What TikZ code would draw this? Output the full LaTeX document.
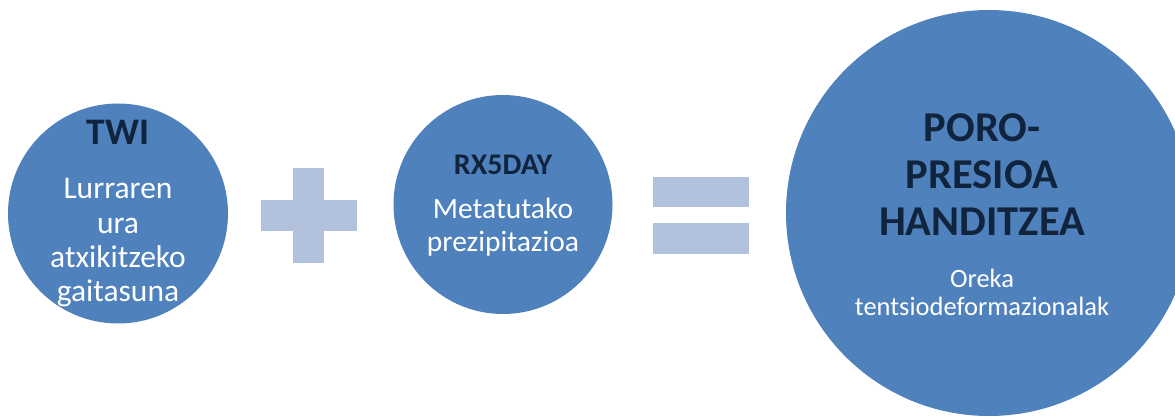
\documentclass[tikz,border=0pt]{standalone}
\usepackage{fontspec}
\setmainfont{Carlito}
\definecolor{bubblefill}{HTML}{4F81BD}
\definecolor{signfill}{HTML}{B1C1DC}
\definecolor{headtext}{HTML}{10243E}
\tikzset{
  bubble/.style={circle, fill=bubblefill, draw=none, inner sep=0pt},
  signbar/.style={rectangle, fill=signfill, draw=none, inner sep=0pt},
  head/.style={text=headtext, anchor=base, inner sep=0pt, font=\bfseries},
  body/.style={text=white, anchor=base, inner sep=0pt},
}
\newcommand{\fsz}[1]{\fontsize{#1}{#1}\selectfont}
\begin{document}
\begin{tikzpicture}[x=1pt, y=-1pt]
\useasboundingbox (0,0) rectangle (1175,419);
\begin{scope}
  \clip (0,0) rectangle (1175,419);
  % the three circles
  \node[bubble, minimum size=220pt] (twi) at (118,213.5) {};
  \node[bubble, minimum size=219pt] (rx) at (503,204.5) {};
  \node[bubble, minimum size=406pt] (poro) at (989,213) {};
\end{scope}

% plus sign
\node[signbar, minimum width=96pt, minimum height=31pt] (plush) at (309,215.5) {};
\node[signbar, minimum width=31pt, minimum height=95pt] (plusv) at (308.5,215.5) {};

% equals sign
\node[signbar, minimum width=96pt, minimum height=30pt] (eqtop) at (701,192) {};
\node[signbar, minimum width=96pt, minimum height=31pt] (eqbot) at (701,238.5) {};

% left circle text
\node[head, font=\bfseries\fsz{37.5}] (twititle) at (118,145) {TWI};
\node[body, font=\fsz{31.5}] (twi1) at (118,199) {Lurraren};
\node[body, font=\fsz{31.5}] (twi2) at (118,233.5) {ura};
\node[body, font=\fsz{31.5}] (twi3) at (118,268) {atxikitzeko};
\node[body, font=\fsz{31.5}] (twi4) at (118,302) {gaitasuna};

% middle circle text
\node[head, font=\bfseries\fsz{30}] (rxtitle) at (503,175) {RX5DAY};
\node[body, font=\fsz{29.5}] (rx1) at (503,219) {Metatutako};
\node[body, font=\fsz{29.5}] (rx2) at (503,252) {prezipitazioa};

% right circle text
\node[head, font=\bfseries\fsz{42.5}] (poro1) at (982,142) {PORO-};
\node[head, font=\bfseries\fsz{42.5}] (poro2) at (982,189) {PRESIOA};
\node[head, font=\bfseries\fsz{42.5}] (poro3) at (982,236) {HANDITZEA};
\node[body, font=\fsz{26.5}] (poro4) at (982,288) {Oreka};
\node[body, font=\fsz{26.5}] (poro5) at (982,316) {tentsiodeformazionalak};
\end{tikzpicture}
\end{document}
